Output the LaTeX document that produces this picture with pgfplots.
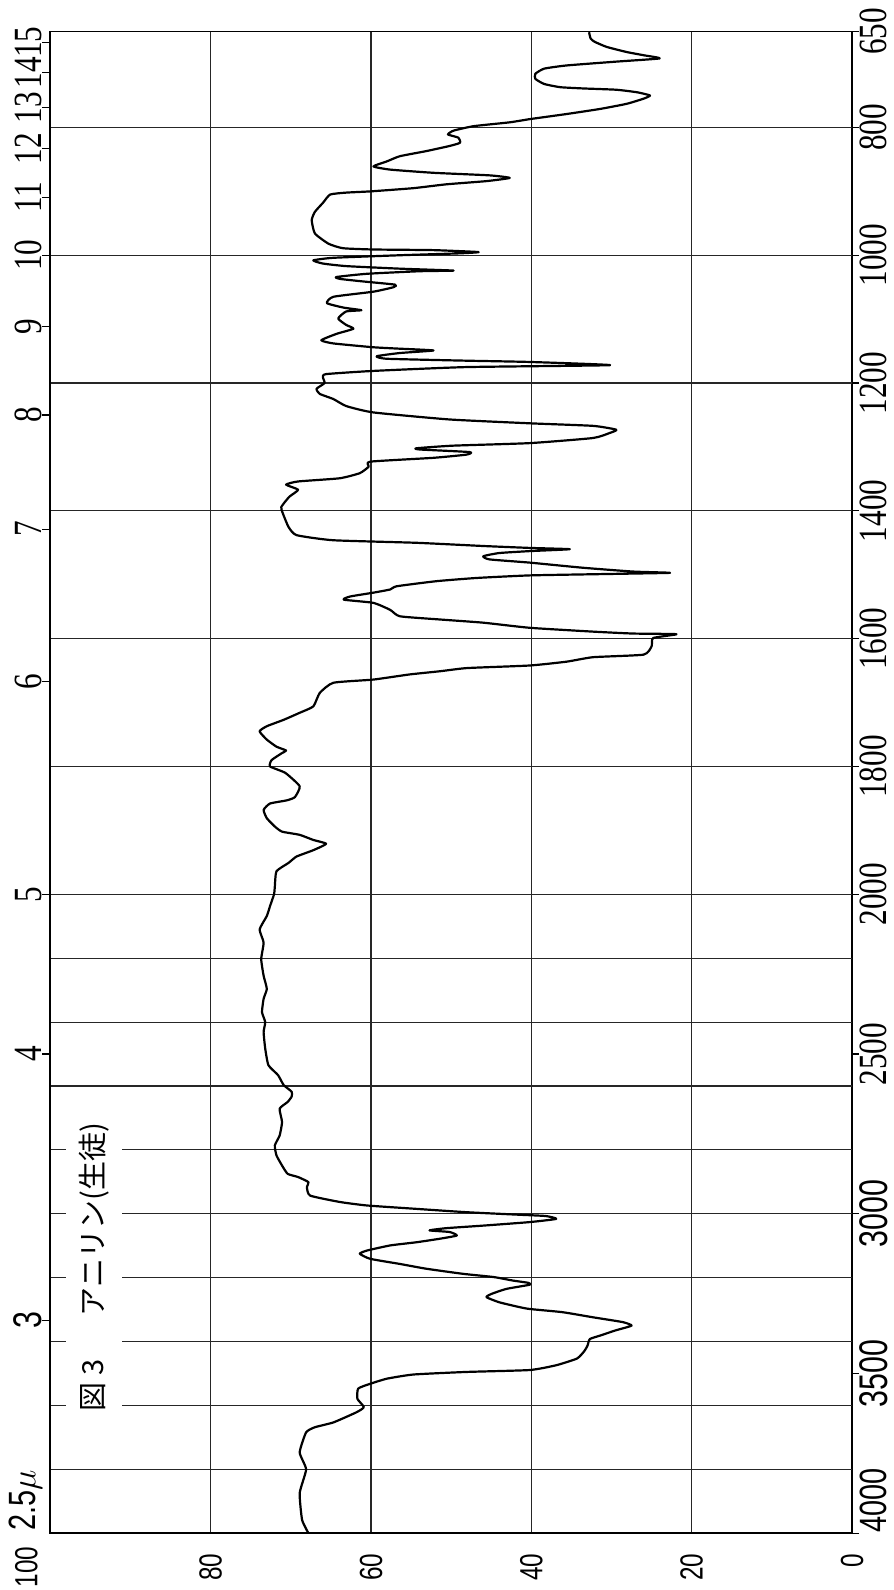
\documentclass[border=0pt]{standalone}
\usepackage{fontspec}
\usepackage{pgfplots}
\usepackage{pgfplotstable}
\pgfplotsset{compat=1.18}
\newfontfamily\cjk{Noto Sans CJK JP}
\newfontfamily\lsans[FakeStretch=0.76]{Liberation Sans}
\newfontfamily\lserif[FakeStretch=0.78]{Liberation Serif}

% aniline IR spectrum: wavenumber (cm^-1), transmittance (%)
\pgfplotstableread{
nu T
4000 67.8
3958 68.6
3874 68.9
3800 68.1
3747 68.9
3684 68.1
3668 67.0
3653 64.7
3621 61.8
3605 60.9
3579 61.7
3547 61.6
3532 60.1
3516 58.0
3503 54.7
3495 48.1
3489 40.2
3474 36.9
3453 34.3
3430 33.4
3413 33.0
3392 32.7
3381 31.4
3365 29.5
3350 27.5
3339 28.6
3324 32.3
3308 36.1
3298 40.2
3292 41.5
3277 44.0
3261 45.6
3251 45.0
3235 43.1
3222 40.2
3216 40.4
3209 42.3
3198 44.7
3188 48.5
3172 53.1
3157 56.4
3141 60.1
3125 61.4
3115 60.5
3099 57.6
3089 54.3
3078 51.4
3068 49.3
3057 50.2
3052 52.7
3045 50.6
3037 46.0
3026 40.2
3016 36.9
3007 38.2
3003 41.5
2995 48.1
2984 54.7
2974 60.5
2963 63.9
2943 67.6
2916 68.0
2901 67.8
2885 69.1
2875 70.4
2849 71.1
2817 71.8
2786 72.0
2755 71.4
2713 71.1
2671 71.4
2650 70.4
2633 69.9
2618 69.9
2597 70.9
2566 71.6
2535 72.8
2483 73.2
2431 73.4
2400 73.2
2369 73.6
2327 73.4
2296 73.0
2255 73.4
2203 73.7
2151 73.4
2110 73.9
2068 73.0
2037 72.6
2000 72.1
1988 72.0
1964 71.8
1951 70.3
1941 69.3
1931 67.2
1921 65.6
1915 67.2
1907 68.9
1902 71.1
1894 72.0
1881 73.0
1868 73.4
1858 72.6
1853 70.5
1848 69.5
1831 68.9
1810 70.7
1800 72.6
1790 72.4
1779 71.1
1775 70.6
1769 71.8
1758 73.0
1745 73.9
1737 73.0
1727 70.9
1716 68.9
1706 67.2
1685 66.4
1669 64.7
1664 59.7
1656 55.2
1651 51.4
1646 48.0
1642 40.2
1636 35.6
1629 32.3
1625 26.0
1612 25.0
1599 24.8
1593 21.9
1592 27.3
1589 32.3
1583 40.2
1575 46.0
1570 51.4
1565 56.4
1555 57.6
1544 59.7
1539 63.4
1534 62.6
1528 59.7
1523 57.6
1518 56.8
1510 51.8
1505 46.8
1501 40.2
1499 31.4
1497 22.7
1495 27.3
1489 33.6
1481 40.2
1476 45.2
1471 46.0
1466 44.0
1463 40.2
1460 35.2
1458 40.2
1455 46.0
1450 54.3
1446 64.7
1438 69.3
1425 70.3
1404 71.0
1394 71.2
1378 70.2
1367 69.1
1359 70.6
1354 69.1
1349 63.9
1341 61.4
1331 60.3
1323 60.1
1317 52.2
1312 48.1
1308 47.7
1304 53.9
1302 54.3
1298 49.8
1294 40.2
1286 32.3
1278 30.2
1273 29.4
1267 32.3
1263 40.2
1257 50.2
1246 59.7
1236 63.1
1225 64.7
1217 66.4
1209 66.8
1200 65.8
1191 66.0
1186 65.6
1181 59.7
1175 48.1
1172 30.2
1167 40.2
1165 48.1
1162 58.0
1158 59.3
1153 56.4
1149 52.2
1146 56.8
1144 59.7
1138 64.7
1133 66.2
1123 64.3
1115 62.2
1109 63.1
1099 64.1
1088 63.1
1086 61.2
1082 63.4
1075 65.5
1065 64.7
1057 59.7
1050 57.2
1046 57.0
1041 61.0
1037 63.9
1034 64.3
1029 60.5
1025 53.9
1024 49.7
1021 56.4
1017 63.1
1013 66.0
1008 67.2
1004 64.7
1000 56.4
997 48.9
995 46.6
992 52.2
991 59.7
989 63.5
982 65.3
966 67.0
945 67.4
932 67.0
918 66.0
905 65.1
902 63.1
900 60.0
895 54.7
889 50.6
884 45.6
879 42.7
875 45.2
871 52.2
866 57.6
861 59.7
853 58.0
845 56.4
837 53.1
829 50.2
824 48.9
816 49.1
811 50.4
805 49.7
798 47.2
792 42.7
787 40.2
779 35.6
771 31.4
763 28.1
755 26.0
750 25.2
745 26.8
741 29.4
739 33.5
737 36.4
732 38.4
724 39.5
716 39.5
708 38.4
703 35.6
697 29.4
692 24.0
687 26.0
682 28.1
674 30.6
666 32.1
661 32.6
651 32.8
}\spec

\begin{document}
\begin{tikzpicture}
% y runs on chart position: 4000-2000 at half the scale of 2000-650
\begin{axis}[
  name=ax,
  scale only axis, width=400.8pt, height=750.85pt,
  xmin=0, xmax=100, x dir=reverse,
  ymin=0, ymax=2350,
  clip mode=individual,
  axis line style={line width=0.9pt},
  grid style={line width=0.55pt, black!85},
  xtick={0,20,40,60,80,100},
  xticklabels={0,20,40,60,80,},
  xmajorgrids,
  xtick style={draw=none},
  xticklabel style={rotate=90, anchor=east, inner sep=0pt, font=\lsans\fontsize{16}{16}\selectfont},
  xticklabel shift=6.5pt,
  ytick={0,250,500,750,1000,1200,1400,1600,1800,2000,2200,2350},
  yticklabels={,{\lsans 3500},{\lsans 3000},2500,2000,1800,1600,1400,1200,1000,800,650},
  ytick pos=right, yticklabel pos=right,
  ytick style={line width=0.6pt, black},
  tick align=outside, major tick length=3.5pt,
  yticklabel style={rotate=90, anchor=north, inner sep=0pt, font=\lserif\fontsize{20}{20}\selectfont},
  extra y ticks={100,200,...,1000,1200,1400,1600,1800,2000,2200},
  extra y tick style={ymajorgrids=true, major tick length=0pt, yticklabel={}},
]
\addplot[black, line width=1.1pt, line join=round, no marks, smooth, tension=0.3,
  y filter/.expression={y>=2000 ? (4000-y)/2 : 3000-y}] table[x=T, y=nu] {\spec};
\node[rotate=90, fill=white, inner xsep=10pt, inner ysep=6.5pt,
  font=\cjk\fontsize{14.5}{14.5}\selectfont] at (axis cs:94.56,416)
  {図\hspace{0.25em}3\hspace{1.5em}アニリン(生徒)};
\node[rotate=90, anchor=north west, inner sep=0pt, font=\lsans\fontsize{19}{19}\selectfont]
  at ([xshift=4pt]axis cs:0,0) {4000};
\node[rotate=90, anchor=east, inner sep=0pt, font=\lsans\fontsize{16}{16}\selectfont]
  at ([xshift=-12pt,yshift=-6.5pt]axis cs:100,0) {100};
\node[rotate=90, anchor=south west, inner sep=0pt, font=\lsans\fontsize{19}{19}\selectfont]
  at ([xshift=-4pt,yshift=1pt]axis cs:100,0) {2.5$\mu$};
\end{axis}
% wavelength scale (micrometres) on the left
\begin{axis}[
  at={(ax.south west)}, anchor=south west,
  scale only axis, width=400.8pt, height=750.85pt,
  xmin=0, xmax=100, ymin=0, ymax=2350,
  hide x axis,
  axis y line*=left,
  y axis line style={line width=0.9pt},
  ytick={333.33,750,1000,1333.33,1571.43,1750,1888.89,2000,2090.91,2166.67,2230.77,2285.71,2333.33},
  yticklabels={{\lsans 3},4,5,6,7,8,9,10,11,12,13,14,15},
  ytick style={line width=0.6pt, black},
  tick align=outside, major tick length=4pt,
  yticklabel style={rotate=90, anchor=south, inner sep=0pt, font=\lserif\fontsize{20}{20}\selectfont},
]
\end{axis}
\pgfresetboundingbox
\path[use as bounding box] ([shift={(-25.2pt,-28.35pt)}]ax.south west) rectangle ([shift={(21pt,15.8pt)}]ax.north east);
\end{tikzpicture}
\end{document}
